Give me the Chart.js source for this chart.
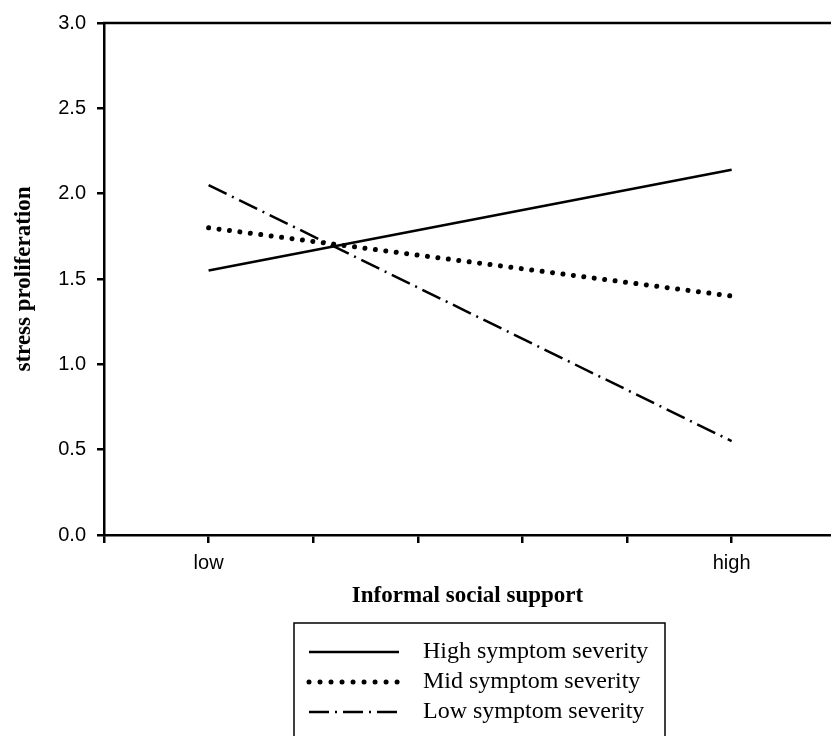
<!DOCTYPE html>
<html>
<head>
<meta charset="utf-8">
<script src="https://cdn.jsdelivr.net/npm/chart.js@4.4.1/dist/chart.umd.min.js"></script>
<style>
  html, body { margin: 0; padding: 0; background: #fff; }
  #wrap { width: 831px; height: 736px; }
</style>
</head>
<body>
<div id="wrap"><canvas id="myChart"></canvas></div>
<script>
// x positions of the two support levels and the tick labels along the axis
var supportPos = [1, 6];
var xTickLabels = ['', 'low', '', '', '', '', 'high'];
var yTicks = [0, 0.5, 1, 1.5, 2, 2.5, 3];

var highSeverity = [1.55, 2.14];
var midSeverity = [1.80, 1.40];
var lowSeverity = [2.05, 0.55];

var seriesLabels = ['High symptom severity', 'Mid symptom severity', 'Low symptom severity'];

function pts(vals) {
    var out = [];
    for (var i = 0; i < vals.length; i++) {
        out.push({x: supportPos[i], y: vals[i]});
    }
    return out;
}

// top frame line, axis titles and the boxed legend
var extras = {
    id: 'extras',
    afterDraw: function(chart) {
        var ctx = chart.ctx;
        var a = chart.chartArea;
        ctx.save();
        ctx.strokeStyle = '#000';
        ctx.lineWidth = 2.5;
        ctx.beginPath();
        ctx.moveTo(a.left - 1, a.top);
        ctx.lineTo(a.right, a.top);
        ctx.stroke();

        ctx.fillStyle = '#000';
        ctx.font = 'bold 23px "Liberation Serif", "Times New Roman", serif';
        ctx.textAlign = 'center';
        ctx.textBaseline = 'middle';
        ctx.fillText('Informal social support', (a.left + a.right) / 2, 596);

        ctx.save();
        ctx.translate(24, (a.top + a.bottom) / 2);
        ctx.rotate(-Math.PI / 2);
        ctx.fillText('stress proliferation', 0, 0);
        ctx.restore();

        // legend box
        ctx.lineWidth = 1.5;
        ctx.strokeRect(294, 623, 371, 130);
        var rows = [652, 682, 712];
        ctx.font = '24px "Liberation Serif", "Times New Roman", serif';
        ctx.textAlign = 'left';
        chart.data.datasets.forEach(function(ds, i) {
            ctx.save();
            ctx.lineWidth = ds.borderWidth;
            ctx.lineCap = ds.borderCapStyle || 'butt';
            ctx.setLineDash(ds.legendDash || ds.borderDash || []);
            ctx.beginPath();
            ctx.moveTo(309, rows[i]);
            ctx.lineTo(399, rows[i]);
            ctx.stroke();
            ctx.restore();
            ctx.fillText(ds.label, 423, rows[i]);
        });
        ctx.restore();
    }
};

var ctx = document.getElementById('myChart').getContext('2d');
var myChart = new Chart(ctx, {
    type: 'line',
    data: {
        datasets: [{
            label: seriesLabels[0],
            data: pts(highSeverity),
            borderColor: '#000',
            borderWidth: 2.5,
            pointRadius: 0
        }, {
            label: seriesLabels[1],
            data: pts(midSeverity),
            borderColor: '#000',
            borderWidth: 5,
            borderCapStyle: 'round',
            borderDash: [0.01, 10.5],
            legendDash: [0.01, 11],
            pointRadius: 0
        }, {
            label: seriesLabels[2],
            data: pts(lowSeverity),
            borderColor: '#000',
            borderWidth: 2.5,
            borderDash: [20, 6, 2, 6],
            legendDash: [20, 6, 2, 6],
            pointRadius: 0
        }]
    },
    options: {
        responsive: true,
        maintainAspectRatio: false,
        animation: false,
        layout: { padding: { top: 21, left: 0, right: 0, bottom: 0 } },
        plugins: {
            legend: { display: false },
            tooltip: { enabled: false }
        },
        scales: {
            x: {
                type: 'linear',
                min: 0,
                max: 6.95,
                afterFit: function(s) { s.height = 201; },
                afterBuildTicks: function(s) {
                    s.ticks = xTickLabels.map(function(l, i) { return {value: i}; });
                },
                ticks: {
                    color: '#000',
                    font: { family: '"Liberation Sans", Arial, sans-serif', size: 20 },
                    padding: 8,
                    maxRotation: 0,
                    autoSkip: false,
                    callback: function(v) { return xTickLabels[v] || ''; }
                },
                grid: { drawOnChartArea: false, drawTicks: true, tickLength: 8, color: '#000', lineWidth: 2.5 },
                border: { display: true, color: '#000', width: 2.5 }
            },
            y: {
                min: 0,
                max: 3,
                afterFit: function(s) { s.width = 104; },
                afterBuildTicks: function(s) {
                    s.ticks = yTicks.map(function(v) { return {value: v}; });
                },
                ticks: {
                    color: '#000',
                    font: { family: '"Liberation Sans", Arial, sans-serif', size: 20 },
                    padding: 11,
                    callback: function(v) { return v.toFixed(1); }
                },
                grid: { drawOnChartArea: false, drawTicks: true, tickLength: 7, color: '#000', lineWidth: 2.5 },
                border: { display: true, color: '#000', width: 2.5 }
            }
        }
    },
    plugins: [extras]
});
</script>
</body>
</html>
